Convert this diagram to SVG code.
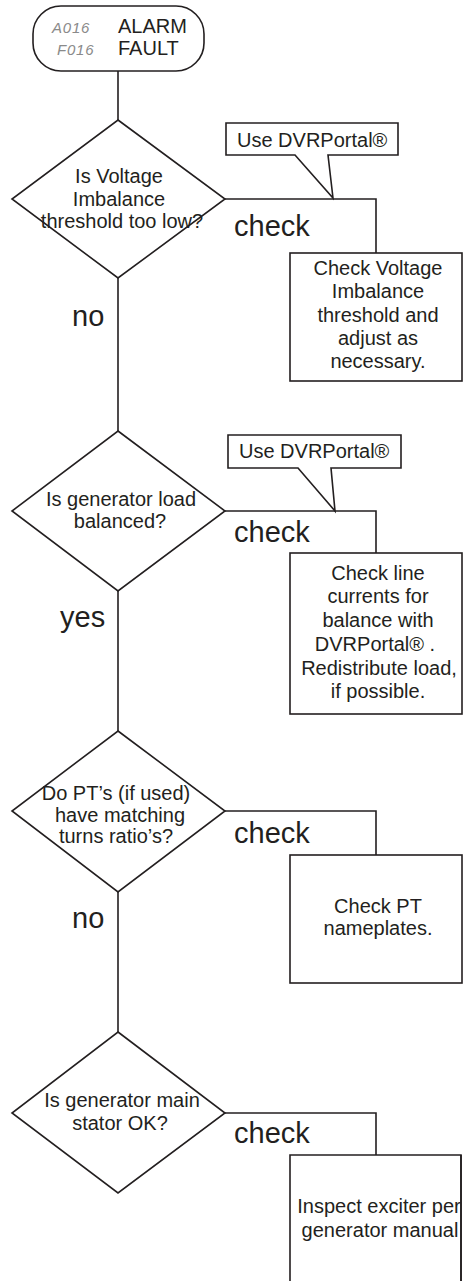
<svg xmlns="http://www.w3.org/2000/svg" width="463" height="1281" viewBox="0 0 463 1281">
<style>
.s{fill:#fff;stroke:#231f20;stroke-width:1.6}
.l{fill:none;stroke:#231f20;stroke-width:1.6}
text{font-family:"Liberation Sans",Arial,sans-serif;fill:#231f20;font-size:20px}
.c{text-anchor:middle}
.big{font-size:29px}
.dig{font-style:italic;fill:#8a8a8a;font-size:15px;letter-spacing:0.8px}
</style>
<rect width="463" height="1281" fill="#fff"/>
<g id="connectors">
<path class="l" d="M118 71V120M118 278V431M118 591V731M118 892V1032"/>
<path class="l" d="M225 199H376V253"/>
<path class="l" d="M225 511H376V553"/>
<path class="l" d="M225 811H376V855"/>
<path class="l" d="M225 1113H376V1155"/>
<text x="234" y="236" class="big">check</text>
<text x="72" y="326" class="big">no</text>
<text x="234" y="542" class="big">check</text>
<text x="60" y="627" class="big">yes</text>
<text x="234" y="843" class="big">check</text>
<text x="72" y="928" class="big">no</text>
<text x="234" y="1143" class="big">check</text>
</g>
<g id="start">
<rect class="s" x="33" y="6" width="171" height="65" rx="28" ry="28"/>
<text x="52" y="33" class="dig">A016</text>
<text x="57" y="55" class="dig">F016</text>
<text x="118" y="33">ALARM</text>
<text x="118" y="55">FAULT</text>
</g>
<g id="d1">
<polygon class="s" points="118,120 225,199 118,278 12,199"/>
<text class="c" x="119" y="183">Is Voltage</text>
<text class="c" x="119" y="206">Imbalance</text>
<text class="c" x="122" y="228">threshold too low?</text>
</g>
<g id="callout1">
<path class="s" d="M226 123H398V155H328L333 198L295 155H226Z"/>
<text x="237" y="147">Use DVRPortal®</text>
</g>
<g id="b1">
<rect class="s" x="290" y="253" width="172" height="128"/>
<text class="c" x="378" y="275">Check Voltage</text>
<text class="c" x="378" y="298">Imbalance</text>
<text class="c" x="378" y="322">threshold and</text>
<text class="c" x="378" y="345">adjust as</text>
<text class="c" x="378" y="368">necessary.</text>
</g>
<g id="d2">
<polygon class="s" points="118,431 225,511 118,591 12,511"/>
<text class="c" x="121" y="506">Is generator load</text>
<text class="c" x="120" y="528">balanced?</text>
</g>
<g id="callout2">
<path class="s" d="M228 435H401V468H331L335 511L298 468H228Z"/>
<text x="239" y="458">Use DVRPortal®</text>
</g>
<g id="b2">
<rect class="s" x="290" y="553" width="172" height="161"/>
<text class="c" x="378" y="580">Check line</text>
<text class="c" x="378" y="603">currents for</text>
<text class="c" x="378" y="627">balance with</text>
<text class="c" x="375" y="651">DVRPortal® .</text>
<text class="c" x="379" y="675">Redistribute load,</text>
<text class="c" x="378" y="698">if possible.</text>
</g>
<g id="d3">
<polygon class="s" points="118,731 225,811 118,892 12,811"/>
<text class="c" x="116" y="800">Do PT’s (if used)</text>
<text class="c" x="120" y="822">have matching</text>
<text class="c" x="116" y="843">turns ratio’s?</text>
</g>
<g id="b3">
<rect class="s" x="290" y="855" width="172" height="128"/>
<text class="c" x="378" y="913">Check PT</text>
<text class="c" x="378" y="935">nameplates.</text>
</g>
<g id="d4">
<polygon class="s" points="118,1032 225,1113 118,1193 12,1113"/>
<text class="c" x="122" y="1107">Is generator main</text>
<text class="c" x="120" y="1130">stator OK?</text>
</g>
<g id="b4">
<path class="s" d="M290 1290V1155H461V1290"/>
<text class="c" x="379" y="1213">Inspect exciter per</text>
<text class="c" x="380" y="1237">generator manual</text>
<path class="l" d="M461 1155V1290"/>
</g>
</svg>
